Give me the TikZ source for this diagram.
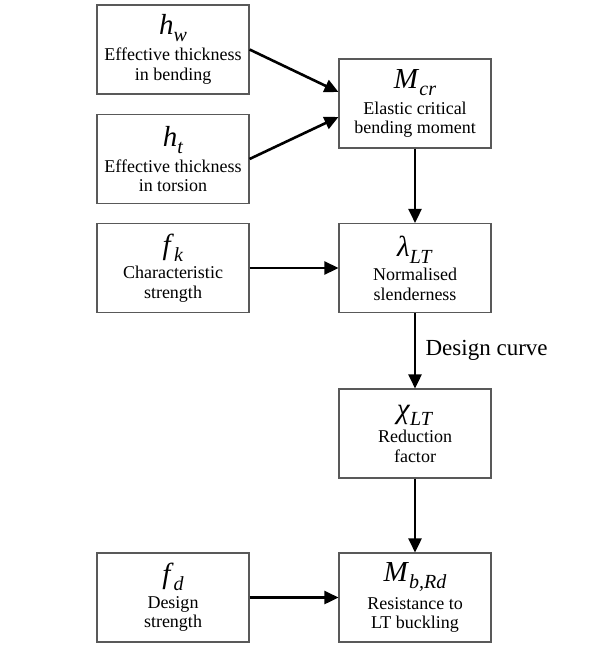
\documentclass[tikz,border=0pt]{standalone}
\usepackage{fontspec}
\setmainfont{Liberation Serif}
\usetikzlibrary{arrows.meta, calc, positioning}
\newcommand{\symb}[2]{{\fontsize{29}{29}\selectfont\textit{#1}}\raisebox{-7pt}{\fontsize{20}{20}\selectfont\textit{#2}}}
\tikzstyle{quantitybox} = [draw=black!65, line width=1.1pt, text centered, align=center, minimum width=152pt, minimum height=89pt, inner sep=2pt, font=\fontsize{18}{19.5}\selectfont]
\tikzstyle{flowchartarrow} = [-{Triangle[length=14pt,width=13pt]}, line width=2.6pt]
\tikzstyle{curvelabel} = [right=6pt, font=\fontsize{23}{23}\selectfont]

\begin{document}
\begin{tikzpicture}
		\useasboundingbox (0,0) rectangle (600pt,-647pt);
		\node (hw) [quantitybox] at (173pt,-49.5pt) {\symb{h}{w}\\[5pt]Effective thickness\\in bending};
		\node (ht) [quantitybox, node distance=109.5pt, below of=hw] {\symb{h}{t}\\[5pt]Effective thickness\\in torsion};
		\node (fk) [quantitybox, node distance=109pt, below of=ht] {\symb{f}{k}\\[5pt]Characteristic\\strength};
		\node (Mcr) [quantitybox] at (415pt,-103.5pt) {\symb{M}{cr}\\[5pt]Elastic critical\\bending moment};
		\node (lambda) [quantitybox, node distance=242pt, right of=fk] {\symb{λ}{LT}\\[5pt]Normalised\\slenderness};
		\node (chi) [quantitybox, node distance=165.5pt, below of=lambda] {\symb{χ}{LT}\\[5pt]Reduction\\factor};
		\node (Mb) [quantitybox, node distance=164pt, below of=chi] {\symb{M}{b,Rd}\\[5pt]Resistance to\\LT buckling};
		\node (fd) [quantitybox, node distance=242pt, left of=Mb] {\symb{f}{d}\\[5pt]Design\\strength};
		\draw [flowchartarrow] (hw.east) -- ($(Mcr.west)+(0,11.5pt)$);
		\draw [flowchartarrow] (ht.east) -- ($(Mcr.west)+(0,-13.5pt)$);
		\draw [flowchartarrow] (Mcr) -- (lambda);
		\draw [flowchartarrow] (fk) -- (lambda);
		\draw [flowchartarrow] (lambda) -- node [curvelabel] {Design curve} (chi);
		\draw [flowchartarrow] (chi) -- (Mb);
		\draw [flowchartarrow] (fd) -- (Mb);
	\end{tikzpicture}
\end{document}
